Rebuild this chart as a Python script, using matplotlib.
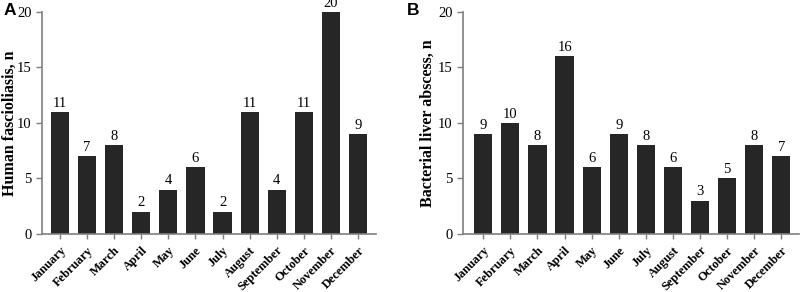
import numpy as np
import matplotlib.pyplot as plt

months = ['January', 'February', 'March', 'April', 'May', 'June', 'July',
          'August', 'September', 'October', 'November', 'December']
fasciola = [11, 7, 8, 2, 4, 6, 2, 11, 4, 11, 20, 9]
abscess = [9, 10, 8, 16, 6, 9, 8, 6, 3, 5, 8, 7]

plt.rcParams['font.family'] = 'Liberation Serif'
axis_col = '#7f7f7f'
bar_col = '#262626'

fig = plt.figure(figsize=(8, 2.92), dpi=100)
ax_a = fig.add_axes([0.0525, 0.199, 0.4175, 0.760])
ax_b = fig.add_axes([0.579, 0.199, 0.42, 0.760])

def draw(ax, vals, ylabel, xlim, label_x):
    x = np.arange(len(months))
    ax.bar(x, vals, width=0.67, color=bar_col)
    for xi, v in zip(x, vals):
        ax.text(xi, v + 0.2, str(v), ha='center', va='bottom', fontsize=10.5)
    ax.set_xlim(*xlim)
    ax.set_ylim(0, 20)
    ax.set_yticks([0, 5, 10, 15, 20])
    ax.set_xticks(x)
    ax.set_xticklabels(months, rotation=45, ha='right', rotation_mode='anchor',
                       fontsize=9, fontweight='bold')
    ax.tick_params(axis='both', colors=axis_col, labelcolor='black',
                   length=4, width=1, labelsize=10.5)
    ax.tick_params(axis='x', labelsize=9, length=3.5, pad=4)
    for s in ['top', 'right']:
        ax.spines[s].set_visible(False)
    for s in ['left', 'bottom']:
        ax.spines[s].set_color(axis_col)
        ax.spines[s].set_linewidth(1.2)
    ax.set_ylabel(ylabel, fontsize=11.5, fontweight='bold')
    ax.yaxis.set_label_coords(label_x, 0.5)

draw(ax_a, fasciola, 'Human fascioliasis, n', (-0.66, 11.66), -0.073)
draw(ax_b, abscess, 'Bacterial liver abscess, n', (-0.74, 11.66), -0.082)

fig.text(0.004, 0.99, 'A', fontsize=12.5, fontweight='bold',
         family='Liberation Sans', va='top')
fig.text(0.509, 0.99, 'B', fontsize=12.5, fontweight='bold',
         family='Liberation Sans', va='top')

fig.savefig('out.png', dpi=100)
